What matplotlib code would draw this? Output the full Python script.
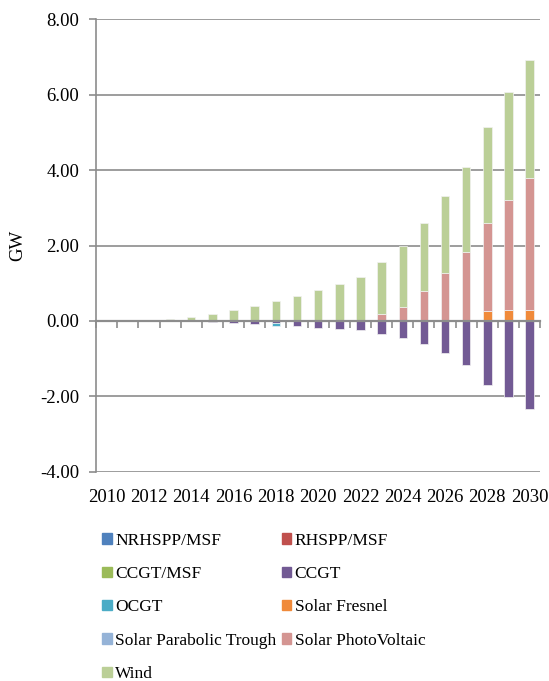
import numpy as np
import matplotlib
matplotlib.use("Agg")
import matplotlib.pyplot as plt
from matplotlib.patches import Patch

plt.rcParams['font.family'] = ['Liberation Serif', 'DejaVu Serif']

years = list(range(2010, 2031))
series = ["NRHSPP/MSF", "RHSPP/MSF", "CCGT/MSF", "CCGT", "OCGT",
          "Solar Fresnel", "Solar Parabolic Trough", "Solar PhotoVoltaic", "Wind"]
colors = ["#4F81BD", "#C0504D", "#9BBB59", "#725A94", "#4BACC6",
          "#F08A3A", "#95B3D7", "#D49592", "#BBCF97"]

zeros = [0.0] * 21
nrhspp = zeros
rhspp = zeros
ccgt_msf = zeros
ccgt = [0, 0, 0, 0, 0, -0.02, -0.05, -0.08, -0.06, -0.14, -0.18,
        -0.20, -0.25, -0.34, -0.46, -0.62, -0.86, -1.16, -1.69, -2.01, -2.32]
ocgt = [0, 0, 0, 0, 0, 0, 0, 0, -0.08, 0, 0,
        0, 0, 0, 0, 0, 0, 0, 0, 0, 0]
fresnel = [0, 0, 0, 0, 0, 0, 0, 0, 0, 0, 0,
           0, 0, 0, 0, 0, 0, 0, 0.27, 0.30, 0.30]
parabolic = zeros
pv = [0, 0, 0, 0, 0, 0, 0, 0, 0, 0, 0,
      0, 0, 0.19, 0.37, 0.79, 1.27, 1.83, 2.33, 2.90, 3.50]
wind = [0, 0, 0.01, 0.04, 0.11, 0.19, 0.28, 0.40, 0.52, 0.67, 0.81,
        0.99, 1.16, 1.36, 1.61, 1.80, 2.03, 2.25, 2.54, 2.86, 3.11]
values = [nrhspp, rhspp, ccgt_msf, ccgt, ocgt, fresnel, parabolic, pv, wind]

fs = 13.5
fig = plt.figure(figsize=(5.49, 6.81), dpi=100)
ax = fig.add_axes([0.175, 0.307, 0.809, 0.665])

x = np.arange(len(years))
pos_bottom = np.zeros(len(years))
neg_bottom = np.zeros(len(years))
for name, vals, c in zip(series, values, colors):
    v = np.array(vals, dtype=float)
    bottom = np.where(v >= 0, pos_bottom, neg_bottom)
    ax.bar(x, v, 0.4, bottom=bottom, color=c, edgecolor="#f2f2f2", linewidth=0.5,
           label=name, zorder=3)
    pos_bottom += np.where(v > 0, v, 0)
    neg_bottom += np.where(v < 0, v, 0)

ax.set_ylim(-4, 8)
ax.set_xlim(-0.5, len(years) - 0.5)
ax.set_yticks(np.arange(-4, 8.1, 2))
ax.set_yticklabels([f"{t:.2f}" for t in np.arange(-4, 8.1, 2)], fontsize=fs)
ax.set_ylabel("GW", fontsize=fs, labelpad=10)
for t in np.arange(-4, 8.1, 2):
    if t != 0:
        ax.axhline(t, color="#8c8c8c", lw=1.2, zorder=1)

for s in ["top", "right"]:
    ax.spines[s].set_visible(False)
ax.spines["left"].set_color("#8c8c8c")
ax.spines["left"].set_linewidth(1.2)
ax.spines["bottom"].set_position(("data", 0))
ax.spines["bottom"].set_color("#8c8c8c")
ax.spines["bottom"].set_linewidth(1.6)
ax.spines["bottom"].set_zorder(4)
ax.tick_params(axis="y", length=5, color="#8c8c8c", width=1.2, pad=7)
ax.set_xticks(np.arange(-0.5, len(years)), minor=True)
ax.set_xticks([])
ax.tick_params(axis="x", which="minor", length=5, color="#8c8c8c", width=1.2, direction="out")

sec = ax.secondary_xaxis(0)
sec.set_xticks(x[::2])
sec.set_xticklabels([str(y) for y in years[::2]], fontsize=fs)
sec.tick_params(length=0, pad=12)
sec.spines["bottom"].set_visible(False)

h = [Patch(color=c) for c in colors]
order = [0, 2, 4, 6, 8, 1, 3, 5, 7]
fig.legend([h[i] for i in order], [series[i] for i in order], ncol=2,
           loc="upper left", bbox_to_anchor=(0.186, 0.218), frameon=False,
           fontsize=12.5, handlelength=0.55, handleheight=0.55, handletextpad=0.2,
           labelspacing=1.0, columnspacing=0.3, borderaxespad=0, borderpad=0)

fig.savefig("out.png", dpi=100)
